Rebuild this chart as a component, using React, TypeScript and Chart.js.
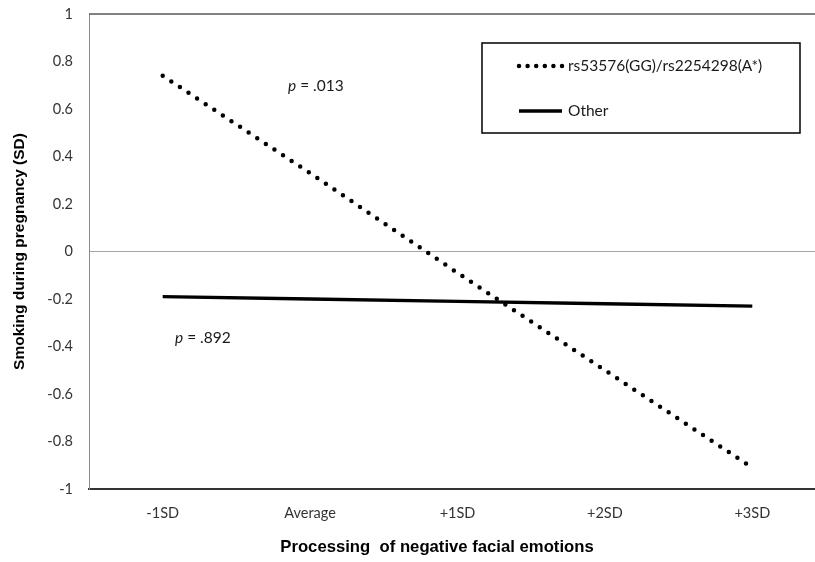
import React, { useEffect, useRef } from "react";
import { Chart, registerables } from "chart.js";

Chart.register(...registerables);

// ---- data ----
const categories = ["-1SD", "Average", "+1SD", "+2SD", "+3SD"];
const seriesNames = ["rs53576(GG)/rs2254298(A*)", "Other"];
const seriesGG = [0.74, 0.33, -0.09, -0.5, -0.91];
const seriesOther = [-0.19, -0.2, -0.21, -0.22, -0.23];
const yMin = -1;
const yMax = 1;
const yStep = 0.2;
const pValues = [" = .013", " = .892"];
const xTitle = "Processing  of negative facial emotions";
const yTitle = "Smoking during pregnancy (SD)";

const CANVAS_W = 840;
const CANVAS_H = 562;

const overlayPlugin = {
  id: "overlay",
  afterDraw(chart: any) {
    const { ctx, chartArea } = chart;
    const { left, right, top, bottom } = chartArea;
    ctx.save();

    // top border of plot area
    ctx.strokeStyle = "#595959";
    ctx.lineWidth = 1.5;
    ctx.beginPath();
    ctx.moveTo(left, top);
    ctx.lineTo(right, top);
    ctx.stroke();

    // legend box
    ctx.strokeStyle = "#000";
    ctx.lineWidth = 1.5;
    ctx.strokeRect(482, 43, 318, 90);

    // dotted sample
    ctx.setLineDash([0, 8.6]);
    ctx.lineCap = "round";
    ctx.lineWidth = 4.5;
    ctx.beginPath();
    ctx.moveTo(519, 66);
    ctx.lineTo(562.5, 66);
    ctx.stroke();
    ctx.setLineDash([]);

    // solid sample
    ctx.lineCap = "butt";
    ctx.lineWidth = 3.5;
    ctx.beginPath();
    ctx.moveTo(519, 111);
    ctx.lineTo(562, 111);
    ctx.stroke();

    ctx.fillStyle = "#1a1a1a";
    ctx.font = "15.5px Lato";
    ctx.textBaseline = "middle";
    ctx.textAlign = "left";
    ctx.fillText(seriesNames[0], 568, 66);
    ctx.fillText(seriesNames[1], 568, 111);

    // p annotations
    const drawP = (x: number, yy: number, rest: string) => {
      ctx.font = "italic 15.5px Lato";
      ctx.fillText("p", x, yy);
      const w = ctx.measureText("p").width;
      ctx.font = "15.5px Lato";
      ctx.fillText(rest, x + w, yy);
    };
    drawP(288, 86, pValues[0]);
    drawP(175, 338, pValues[1]);

    // axis titles
    ctx.font = "bold 16.7px 'Liberation Sans'";
    ctx.textAlign = "center";
    ctx.fillStyle = "#000";
    ctx.fillText(xTitle, 437, 547);

    ctx.font = "bold 15.5px 'Liberation Sans'";
    ctx.translate(20, (top + bottom) / 2);
    ctx.rotate(-Math.PI / 2);
    ctx.fillText(yTitle, 0, 0);

    ctx.restore();
  },
};

export default function App() {
  const ref = useRef<HTMLCanvasElement | null>(null);

  useEffect(() => {
    if (!ref.current) return;
    const chart = new Chart(ref.current, {
      type: "line",
      data: {
        labels: categories,
        datasets: [
          {
            label: seriesNames[0],
            data: seriesGG,
            borderColor: "#000",
            borderWidth: 4.5,
            borderDash: [0, 10.3],
            borderCapStyle: "round",
            pointRadius: 0,
            fill: false,
            tension: 0,
          },
          {
            label: seriesNames[1],
            data: seriesOther,
            borderColor: "#000",
            borderWidth: 3.5,
            pointRadius: 0,
            fill: false,
            tension: 0,
          },
        ],
      },
      options: {
        responsive: false,
        animation: false,
        layout: { padding: { top: 14, right: CANVAS_W - 826, left: 0, bottom: 0 } },
        plugins: {
          legend: { display: false },
          tooltip: { enabled: false },
          title: { display: false },
        },
        scales: {
          x: {
            type: "category",
            offset: true,
            grid: { display: false, drawTicks: false },
            border: { display: true, color: "#333", width: 2 },
            ticks: {
              padding: 16,
              color: "#333",
              font: { family: "Lato", size: 14.5 },
              maxRotation: 0,
            },
            afterFit: (s: any) => {
              s.height = CANVAS_H - 489;
              s.paddingLeft = 0;
              s.paddingRight = 0;
            },
          },
          y: {
            min: yMin,
            max: yMax,
            grid: {
              drawTicks: false,
              color: (c: any) =>
                c.tick && Math.abs(c.tick.value) < 1e-9 ? "#a6a6a6" : "rgba(0,0,0,0)",
              lineWidth: 1,
            },
            border: { display: true, color: "#8c8c8c", width: 1 },
            ticks: {
              stepSize: yStep,
              padding: 16,
              color: "#333",
              font: { family: "Lato", size: 14.5 },
              callback: (v: any) => String(Math.round(Number(v) * 10) / 10),
            },
            afterFit: (s: any) => {
              s.width = 89;
              s.paddingTop = 0;
              s.paddingBottom = 0;
            },
          },
        },
      },
      plugins: [overlayPlugin],
    });
    return () => chart.destroy();
  }, []);

  return (
    <div
      style={{
        position: "fixed",
        left: 0,
        top: 0,
        width: 815,
        height: 562,
        overflow: "hidden",
        background: "#fff",
      }}
    >
      <canvas
        ref={ref}
        width={CANVAS_W}
        height={CANVAS_H}
        style={{ width: CANVAS_W, height: CANVAS_H, display: "block" }}
      />
    </div>
  );
}
